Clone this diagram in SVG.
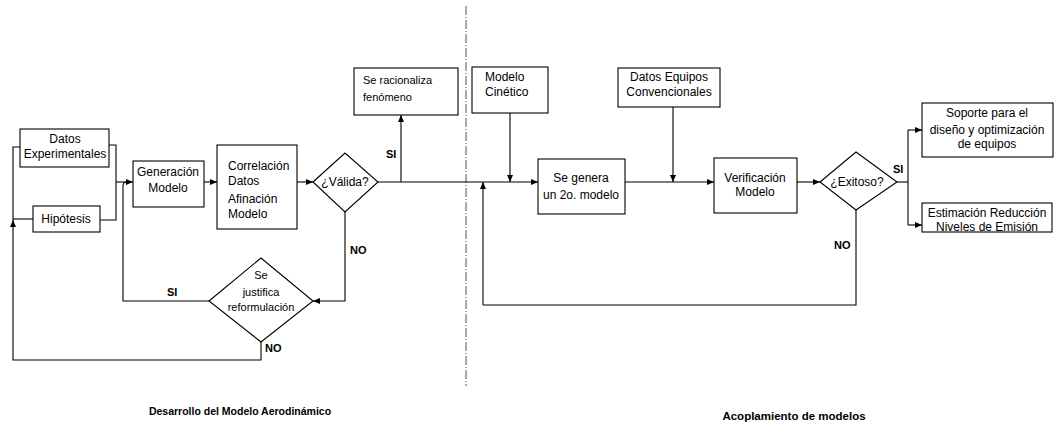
<svg xmlns="http://www.w3.org/2000/svg" width="1059" height="429" viewBox="0 0 1059 429">
  <defs>
    <marker id="arrow" markerUnits="userSpaceOnUse" markerWidth="8" markerHeight="6" refX="7" refY="3" orient="auto">
      <path d="M0,0 L7,3 L0,6 z" fill="#000"/>
    </marker>
    <style>
      .box { fill: #fff; stroke: #000; stroke-width: 1.1; }
      .dia { fill: #fff; stroke: #000; stroke-width: 1.1; }
      .ln { fill: none; stroke: #000; stroke-width: 1.1; }
      .arr { fill: none; stroke: #000; stroke-width: 1.1; marker-end: url(#arrow); }
      .t { font-family: "Liberation Sans", Arial, sans-serif; font-size: 12px; fill: #000; }
      .c { text-anchor: middle; }
      .s { font-size: 11px; }
      .lbl { font-family: "Liberation Sans", Arial, sans-serif; font-size: 11px; font-weight: bold; fill: #000; }
      .title { font-family: "Liberation Sans", Arial, sans-serif; font-size: 10.5px; font-weight: bold; fill: #000; }
      .divider { fill: none; stroke: #555; stroke-width: 1; stroke-dasharray: 9 2 1 2; }
    </style>
  </defs>
  <rect width="1059" height="429" fill="#fff"/>

  <!-- section divider -->
  <line class="divider" x1="466" y1="6" x2="466" y2="386"/>

  <!-- connectors -->
  <g id="connectors">
    <!-- inputs into Generación Modelo -->
    <path class="ln" d="M109,145 H116 V220 H100"/>
    <path class="arr" d="M116,182 H133"/>
    <!-- SI from reformulation back to Generación -->
    <path class="ln" d="M209,301 H123 V186 Q123,182 127,182"/>
    <path class="arr" d="M204,182 H217"/>
    <path class="arr" d="M297,182 H313"/>
    <!-- NO from ¿Válida? to reformulation -->
    <path class="arr" d="M345,212 V301 H313"/>
    <!-- NO from reformulation back to inputs -->
    <path class="arr" d="M261,342 V360 H13 V220"/>
    <path class="ln" d="M13,220 V147 H20"/>
    <path class="ln" d="M13,219 H33"/>
    <!-- SI to Se racionaliza -->
    <path class="arr" d="M401,182 V115"/>
    <!-- main line to second model -->
    <path class="arr" d="M378,182 H538"/>
    <path class="arr" d="M510,113 V182"/>
    <path class="arr" d="M483,305 V182"/>
    <path class="arr" d="M673,107 V182"/>
    <path class="arr" d="M625,182 H714"/>
    <path class="arr" d="M797,182 H820"/>
    <!-- SI branch -->
    <path class="ln" d="M897,182 H908"/>
    <path class="ln" d="M908,130 V225"/>
    <path class="arr" d="M908,130 H922"/>
    <path class="arr" d="M908,225 H922"/>
    <!-- NO loop -->
    <path class="ln" d="M856,210 V305 H483"/>
  </g>

  <!-- connector labels -->
  <g id="labels">
    <text class="lbl" x="386" y="158">SI</text>
    <text class="lbl" x="350" y="254">NO</text>
    <text class="lbl" x="167" y="296">SI</text>
    <text class="lbl" x="265" y="352">NO</text>
    <text class="lbl" x="893" y="173">SI</text>
    <text class="lbl" x="834" y="249">NO</text>
  </g>

  <g id="datos-experimentales">
    <rect class="box" x="20" y="129" width="89" height="38"/>
    <text class="t c" x="65" y="143">Datos</text>
    <text class="t c" x="65" y="158">Experimentales</text>
  </g>

  <g id="hipotesis">
    <rect class="box" x="33" y="206" width="67" height="26"/>
    <text class="t c" x="66" y="223">Hipótesis</text>
  </g>

  <g id="generacion-modelo">
    <rect class="box" x="133" y="161" width="71" height="46"/>
    <text class="t c" x="168" y="176">Generación</text>
    <text class="t c" x="168" y="192">Modelo</text>
  </g>

  <g id="correlacion">
    <rect class="box" x="217" y="145" width="80" height="84"/>
    <text class="t" x="228" y="170">Correlación</text>
    <text class="t" x="228" y="185">Datos</text>
    <text class="t" x="228" y="203">Afinación</text>
    <text class="t" x="228" y="218">Modelo</text>
  </g>

  <g id="valida">
    <polygon class="dia" points="313,182 345,153 378,182 345,212"/>
    <text class="t c" x="345" y="186">¿Válida?</text>
  </g>

  <g id="reformulacion">
    <polygon class="dia" points="209,301 261,258 313,301 261,342"/>
    <text class="t c s" x="261" y="279">Se</text>
    <text class="t c s" x="261" y="296">justifica</text>
    <text class="t c s" x="261" y="311">reformulación</text>
  </g>

  <g id="se-racionaliza">
    <rect class="box" x="354" y="68" width="104" height="47"/>
    <text class="t s" x="363" y="84">Se racionaliza</text>
    <text class="t s" x="363" y="101">fenómeno</text>
  </g>

  <g id="modelo-cinetico">
    <rect class="box" x="472" y="67" width="76" height="46"/>
    <text class="t" x="485" y="81">Modelo</text>
    <text class="t" x="485" y="96">Cinético</text>
  </g>

  <g id="datos-equipos">
    <rect class="box" x="618" y="68" width="102" height="39"/>
    <text class="t c" x="669" y="81">Datos Equipos</text>
    <text class="t c" x="669" y="96">Convencionales</text>
  </g>

  <g id="segundo-modelo">
    <rect class="box" x="538" y="159" width="87" height="55"/>
    <text class="t c" x="581" y="182">Se genera</text>
    <text class="t c" x="581" y="199">un 2o. modelo</text>
  </g>

  <g id="verificacion">
    <rect class="box" x="714" y="158" width="83" height="55"/>
    <text class="t c" x="755" y="182">Verificación</text>
    <text class="t c" x="755" y="196">Modelo</text>
  </g>

  <g id="exitoso">
    <polygon class="dia" points="820,182 856,152 897,182 856,210"/>
    <text class="t c" x="857" y="186">¿Exitoso?</text>
  </g>

  <g id="soporte">
    <rect class="box" x="922" y="103" width="131" height="54"/>
    <text class="t c" x="987" y="117">Soporte para el</text>
    <text class="t c" x="987" y="134">diseño y optimización</text>
    <text class="t c" x="987" y="148">de equipos</text>
  </g>

  <g id="estimacion">
    <rect class="box" x="922" y="203" width="130" height="29"/>
    <text class="t c" x="987" y="217">Estimación Reducción</text>
    <text class="t c" x="987" y="231">Niveles de Emisión</text>
  </g>

  <!-- section titles -->
  <text class="title c" x="240" y="415">Desarrollo del Modelo Aerodinámico</text>
  <text class="title c" x="794" y="420" style="font-size:11.5px">Acoplamiento de modelos</text>
</svg>
